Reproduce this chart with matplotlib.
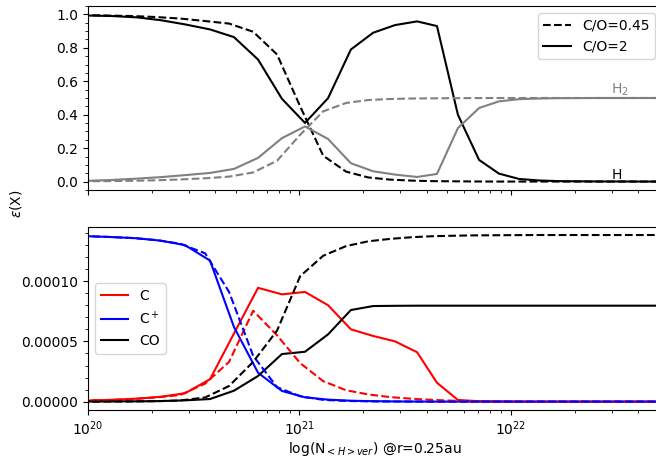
import numpy as np
import matplotlib
matplotlib.use("Agg")
import matplotlib.pyplot as plt
from matplotlib.lines import Line2D
from matplotlib.ticker import AutoMinorLocator

# ---- data (log10 column density grid) ----
logN_co2 = [19.887, 20.000, 20.113, 20.232, 20.345, 20.459, 20.577, 20.690, 20.804,
            20.917, 21.026, 21.135, 21.243, 21.348, 21.452, 21.556, 21.650, 21.749,
            21.849, 21.943, 22.038, 22.132, 22.227, 22.322, 22.416, 22.511, 22.605,
            22.700, 22.794]
logN_co045 = [19.864, 19.977, 20.090, 20.209, 20.322, 20.436, 20.554, 20.667, 20.781,
              20.894, 21.003, 21.112, 21.220, 21.325, 21.429, 21.533, 21.627, 21.726,
              21.826, 21.920, 22.015, 22.109, 22.204, 22.299, 22.393, 22.488, 22.582,
              22.677, 22.771]

# C/O = 2 (solid)
H_co2 = [0.995, 0.993, 0.990, 0.982, 0.965, 0.940, 0.910, 0.864, 0.730, 0.495,
         0.351, 0.499, 0.790, 0.890, 0.936, 0.958, 0.930, 0.400, 0.130, 0.048,
         0.016, 0.007, 0.003, 0.002, 0.001, 0.001, 0.0005, 0.0005, 0.0005]
H2_co2 = [0.003, 0.005, 0.010, 0.018, 0.027, 0.039, 0.052, 0.076, 0.142, 0.260,
          0.330, 0.255, 0.110, 0.062, 0.042, 0.028, 0.046, 0.320, 0.440, 0.480,
          0.493, 0.497, 0.499, 0.4995, 0.5, 0.5, 0.5, 0.5, 0.5]
C_co2 = [0.008, 0.010, 0.015, 0.025, 0.041, 0.070, 0.186, 0.565, 0.944, 0.890,
         0.910, 0.800, 0.600, 0.545, 0.500, 0.410, 0.157, 0.014, 0.004, 0.002,
         0.001, 0.0005, 0.0005, 0.0005, 0.0005, 0.0005, 0.0005, 0.0005, 0.0005]
Cp_co2 = [1.375, 1.372, 1.365, 1.355, 1.335, 1.298, 1.170, 0.620, 0.240, 0.089,
          0.036, 0.017, 0.008, 0.004, 0.002, 0.001, 0.0005, 0.0005, 0.0005, 0.0005,
          0.0005, 0.0005, 0.0005, 0.0005, 0.0005, 0.0005, 0.0005, 0.0005, 0.0005]
CO_co2 = [0.000, 0.001, 0.002, 0.003, 0.005, 0.011, 0.022, 0.091, 0.213, 0.395,
          0.414, 0.558, 0.760, 0.793, 0.795, 0.796, 0.796, 0.796, 0.796, 0.796,
          0.796, 0.796, 0.796, 0.796, 0.796, 0.796, 0.796, 0.796, 0.796]

# C/O = 0.45 (dashed)
H_co045 = [0.998, 0.996, 0.993, 0.990, 0.984, 0.975, 0.960, 0.945, 0.896, 0.760,
           0.450, 0.155, 0.060, 0.025, 0.012, 0.006, 0.003, 0.002, 0.001, 0.0005,
           0.0005, 0.0005, 0.0005, 0.0005, 0.0005, 0.0005, 0.0005, 0.0005, 0.0005]
H2_co045 = [0.001, 0.002, 0.003, 0.005, 0.008, 0.013, 0.020, 0.030, 0.055, 0.125,
            0.280, 0.420, 0.470, 0.488, 0.494, 0.497, 0.498, 0.499, 0.4995, 0.5,
            0.5, 0.5, 0.5, 0.5, 0.5, 0.5, 0.5, 0.5, 0.5]
C_co045 = [0.008, 0.010, 0.014, 0.022, 0.035, 0.055, 0.150, 0.330, 0.754, 0.550,
           0.320, 0.170, 0.095, 0.060, 0.038, 0.024, 0.015, 0.008, 0.004, 0.002,
           0.001, 0.0005, 0.0005, 0.0005, 0.0005, 0.0005, 0.0005, 0.0005, 0.0005]
Cp_co045 = [1.376, 1.373, 1.367, 1.357, 1.340, 1.310, 1.230, 0.910, 0.380, 0.120,
            0.045, 0.015, 0.006, 0.003, 0.0015, 0.001, 0.0005, 0.0005, 0.0005, 0.0005,
            0.0005, 0.0005, 0.0005, 0.0005, 0.0005, 0.0005, 0.0005, 0.0005, 0.0005]
CO_co045 = [0.000, 0.000, 0.001, 0.002, 0.004, 0.010, 0.035, 0.130, 0.330, 0.590,
            1.040, 1.210, 1.290, 1.330, 1.350, 1.364, 1.372, 1.376, 1.379, 1.380,
            1.381, 1.382, 1.382, 1.382, 1.382, 1.382, 1.382, 1.382, 1.382]

scale_bottom = 1e-4

N2 = 10 ** np.array(logN_co2)
N045 = 10 ** np.array(logN_co045)

W, H = 656, 459
fig = plt.figure(figsize=(W / 100, H / 100), dpi=100)
left = 88 / W
right = 662 / W
ax1 = fig.add_axes([left, (H - 190) / H, right - left, 184 / H])
ax2 = fig.add_axes([left, (H - 410) / H, right - left, 183.3 / H], sharex=ax1)

ax1.plot(N045, H_co045, color='black', ls='--', lw=1.5)
ax1.plot(N2, H_co2, color='black', ls='-', lw=1.5)
ax1.plot(N045, H2_co045, color='gray', ls='--', lw=1.5)
ax1.plot(N2, H2_co2, color='gray', ls='-', lw=1.5)
ax1.set_xscale('log')
ax1.set_xlim(1e20, 10 ** 22.714)
ax1.set_ylim(-0.05, 1.05)
ax1.yaxis.set_minor_locator(AutoMinorLocator())
ax1.tick_params(labelbottom=False)
ax1.text(10 ** 22.515, 0.55, 'H$_2$', color='gray', ha='center', va='center', fontsize=10)
ax1.text(10 ** 22.50, 0.04, 'H', color='black', ha='center', va='center', fontsize=10)
handles = [Line2D([], [], color='black', ls='--', lw=1.5),
           Line2D([], [], color='black', ls='-', lw=1.5)]
ax1.legend(handles, ['C/O=0.45', 'C/O=2'], loc='upper right', fontsize=10)

C2 = np.array(C_co2) * scale_bottom
Cp2 = np.array(Cp_co2) * scale_bottom
CO2 = np.array(CO_co2) * scale_bottom
C045 = np.array(C_co045) * scale_bottom
Cp045 = np.array(Cp_co045) * scale_bottom
CO045 = np.array(CO_co045) * scale_bottom

l1, = ax2.plot(N2, C2, color='red', ls='-', lw=1.5)
l2, = ax2.plot(N2, Cp2, color='blue', ls='-', lw=1.5)
l3, = ax2.plot(N2, CO2, color='black', ls='-', lw=1.5)
ax2.plot(N045, C045, color='red', ls='--', lw=1.5)
ax2.plot(N045, Cp045, color='blue', ls='--', lw=1.5)
ax2.plot(N045, CO045, color='black', ls='--', lw=1.5)
ax2.set_ylim(-0.069e-4, 1.451e-4)
ax2.set_yticks([0, 0.00005, 0.0001])
ax2.set_yticklabels(['0.00000', '0.00005', '0.00010'])
ax2.yaxis.set_minor_locator(AutoMinorLocator(5))
ax2.legend([l1, l2, l3], ['C', 'C$^+$', 'CO'], loc='center left', fontsize=10)
ax2.set_xlabel(r'log(N$_{<H>ver}$) @r=0.25au', fontsize=10, labelpad=1)

fig.text(0.025, 0.557, r'$\epsilon$(X)', rotation=90, ha='center', va='center', fontsize=10)

fig.savefig('out.png', dpi=100)
